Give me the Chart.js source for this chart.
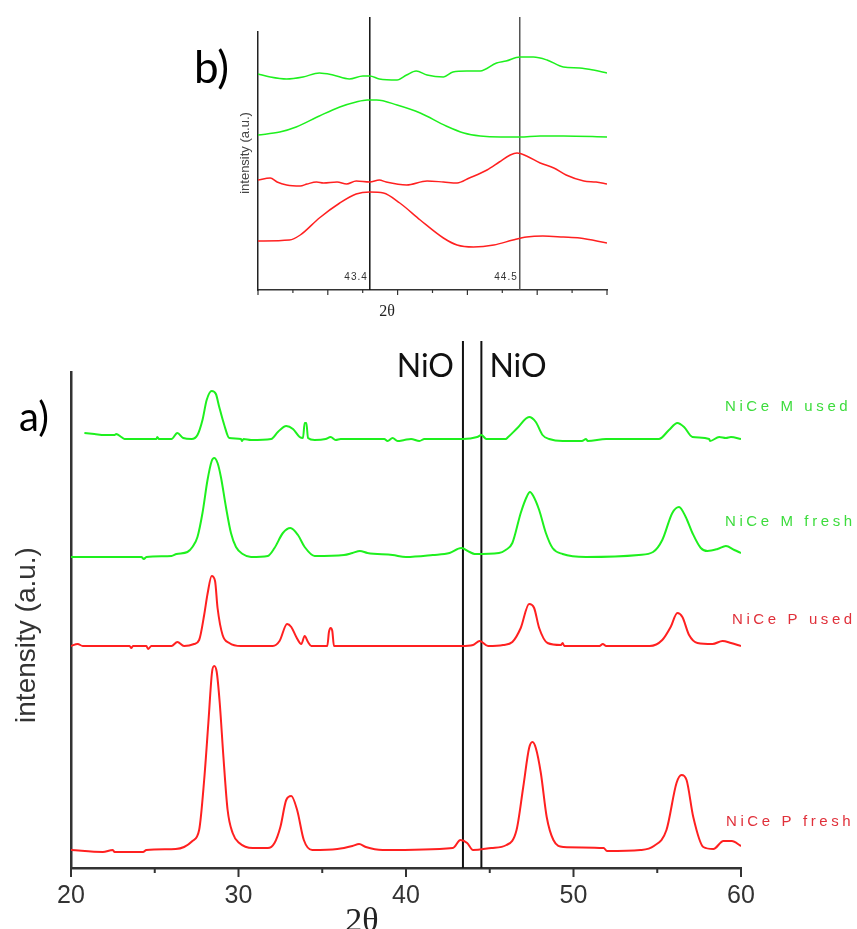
<!DOCTYPE html>
<html>
<head>
<meta charset="utf-8">
<script src="https://cdn.jsdelivr.net/npm/chart.js@4.4.1/dist/chart.umd.min.js"></script>
<style>
  html, body { margin: 0; padding: 0; background: #fff; }
  #wrap { position: relative; width: 857px; height: 929px; }
  canvas { position: absolute; left: 0; top: 0; }
</style>
</head>
<body>
<div id="wrap">
  <canvas id="mainChart" width="857" height="929"></canvas>
  <canvas id="insetChart" width="857" height="335"></canvas>
</div>
<script>
// ---- a) full patterns, [2theta, intensity offset a.u.] ----
const mUsed = [[20.8,435],[21.4,434],[22.0,433],[22.6,433],[22.7,434],[23.0,431],[23.2,429],[25.1,429],[25.15,431],[25.25,429],
  [26.0,429],[26.35,435],[26.7,430],[27.2,429],[27.55,433],[27.85,448],[28.1,468],[28.4,477],[28.65,474],[28.85,461],
  [29.15,443],[29.45,430],[30.15,429],[30.2,427],[30.3,429],[30.75,428],[31.95,429],[32.35,436],[32.85,442],[33.25,439],
  [33.65,431],[33.85,430],[33.95,445],[34.05,445],[34.15,430],[34.55,428],[35.2,429],[35.5,431],[35.8,428],[36.1,429],
  [38.7,429],[38.9,427],[39.2,430],[39.5,427],[39.9,428],[40.3,429],[40.8,427],[41.1,429],[43.4,429],[44.25,431],
  [44.5,433],[44.8,429],[45.95,429],[46.1,431],[46.65,440],[47.35,451],[47.75,446],[48.15,433],[48.55,429],[49.35,427],
  [50.5,427],[50.75,429],[50.85,427],[51.95,429],[55.1,429],[55.7,438],[56.2,445],[56.6,441],[57.1,431],[58.1,429],
  [58.15,427],[58.7,431],[59.1,430],[59.4,431],[60,429]];

const mFresh = [[20,311],[24.2,311],[24.35,309],[24.5,311],[26.0,312],[26.3,314],[26.95,316],[27.25,321],[27.55,331],[27.85,355],
  [28.15,388],[28.4,407],[28.55,410],[28.75,405],[28.95,391],[29.25,361],[29.55,335],[29.85,321],[30.25,314],[30.75,311],[31.75,312],
  [32.15,320],[32.65,335],[33.1,340],[33.55,333],[33.95,321],[34.55,312],[36.3,313],[36.8,315],[37.25,317],[37.7,315],
  [39.2,313],[40,311],[41.6,313],[42.6,315],[43.3,320],[43.8,316],[44.1,314],[45.55,315],[45.95,318],[46.35,325],
  [46.85,355],[47.2,371],[47.4,376],[47.6,372],[47.95,358],[48.35,335],[48.75,320],[49.35,314],[50.75,311],[53.9,313],[54.75,316],
  [55.3,328],[55.9,355],[56.3,361],[56.7,351],[57.1,335],[57.6,320],[58.0,317],[58.6,319],[59.1,322],[59.6,318],[60,315]];

const pUsed = [[20,222],[20.4,224],[20.7,222],[23.5,222],[23.6,220],[23.7,222],[24.5,222],[24.6,219],[24.8,222],[26.0,222],
  [26.35,226],[26.75,222],[27.35,224],[27.65,228],[27.95,253],[28.15,274],[28.4,292],[28.6,287],[28.75,260],[29.05,233],
  [29.45,225],[30.15,222],[32.05,222],[32.45,227],[32.9,244],[33.15,241],[33.45,231],[33.75,224],[33.95,232],[34.15,226],
  [34.35,222],[35.3,222],[35.4,236],[35.5,240],[35.6,237],[35.7,222],[43.3,222],[44.0,223],[44.4,227],[44.9,222],
  [45.8,223],[46.35,226],[46.85,240],[47.35,264],[47.65,260],[47.95,240],[48.45,225],[49.25,223],[49.35,225],[49.45,222],
  [51.55,222],[51.75,224],[51.95,222],[54.55,222],[55.3,228],[55.8,241],[56.2,255],[56.5,251],[56.9,233],[57.4,225],
  [58.3,224],[58.9,227],[59.4,225],[60,222]];

const pFresh = [[20,18],[21.9,16],[22.5,18],[22.6,16],[24.3,16],[24.5,18],[26.25,19],[26.75,21],[27.25,27],[27.65,38],
  [27.95,88],[28.2,145],[28.42,196],[28.55,202],[28.7,196],[28.88,165],[29.1,111],[29.35,58],[29.65,35],[30.05,25],[30.85,20],
  [31.75,20],[32.15,25],[32.5,41],[32.85,68],[33.15,72],[33.5,58],[33.9,28],[34.4,18],[35.9,19],[36.8,22],
  [37.2,24],[37.6,21],[38.6,18],[42.8,20],[43.25,28],[43.65,25],[44.0,18],[45.1,20],[46.0,23],[46.6,38],
  [47.0,81],[47.35,120],[47.55,126],[47.75,120],[48.05,95],[48.4,51],[48.8,28],[49.4,21],[51.8,20],[52.0,17],[54.0,18],
  [54.8,22],[55.55,38],[56.15,85],[56.45,93],[56.75,88],[57.15,51],[57.75,21],[58.35,19],[58.95,27],[59.45,27],[60,22]];

// ---- b) zoom on the NiO region ----
const zmUsed = [[42.58,216],[42.67,213],[42.79,211],[42.91,213],[43.03,217],[43.13,215],[43.25,211],[43.35,214],[43.4,214],
  [43.47,211],[43.6,210],[43.67,215],[43.74,219],[43.82,215],[43.94,213],[44.01,218],[44.11,219],[44.21,219],[44.33,227],
  [44.4,229],[44.5,233],[44.6,233],[44.7,230],[44.82,223],[44.94,222],[45.04,220],[45.14,217]];
const zmFresh = [[42.58,155],[42.74,158],[42.86,163],[43.03,174],[43.18,183],[43.3,188],[43.38,190],[43.45,190],[43.6,185],
  [43.77,177],[43.96,164],[44.09,157],[44.21,154],[44.36,153],[44.5,153],[44.65,154],[44.82,154],[45.14,153]];
const zpUsed = [[42.58,110],[42.67,112],[42.72,108],[42.79,105],[42.89,104],[42.94,106],[43.01,108],[43.06,107],[43.16,108],
  [43.23,106],[43.3,109],[43.4,108],[43.47,110],[43.52,108],[43.67,105],[43.82,109],[43.94,108],[44.04,107],[44.13,112],
  [44.26,120],[44.35,128],[44.43,135],[44.48,137],[44.55,134],[44.65,127],[44.75,122],[44.84,115],[44.97,109],[45.06,108],[45.14,106]];
const zpFresh = [[42.58,49],[42.81,50],[42.89,55],[43.03,72],[43.18,87],[43.3,96],[43.4,98],[43.5,97],[43.62,87],[43.77,70],
  [43.94,52],[44.04,45],[44.16,43],[44.31,45],[44.45,50],[44.55,53],[44.67,54],[44.82,53],[44.94,52],[45.14,47]];

const nioLines = [43.4, 44.5];
const nioTop = 527;      // main chart, a.u.
const zoomNioTop = 273;  // inset, a.u.
const seriesNames = ['NiCe M used', 'NiCe M fresh', 'NiCe P used', 'NiCe P fresh'];

const GREEN = '#1ef01e';
const RED = '#ff2020';

const toPoints = arr => arr.map(([x, y]) => ({ x, y }));

function series(arr, color, width) {
  return {
    data: toPoints(arr),
    borderColor: color,
    borderWidth: width,
    pointRadius: 0,
    cubicInterpolationMode: 'monotone',
    fill: false
  };
}

function markerLines(top, width, colors) {
  return nioLines.map((x, i) => ({
    data: [{ x, y: 0 }, { x, y: top }],
    borderColor: colors[i],
    borderWidth: width,
    pointRadius: 0,
    clip: false
  }));
}

// short/long tick marks under the x axis (alternating minor/major)
const tickMarks = {
  id: 'tickMarks',
  afterDraw(chart, args, opts) {
    const scale = chart.scales.x;
    const ctx = chart.ctx;
    ctx.save();
    ctx.strokeStyle = opts.color;
    ctx.lineWidth = opts.width;
    scale.ticks.forEach((t, i) => {
      const px = scale.getPixelForValue(t.value);
      const len = i % 2 === 0 ? opts.major : opts.minor;
      ctx.beginPath();
      ctx.moveTo(px, scale.top);
      ctx.lineTo(px, scale.top + len);
      ctx.stroke();
    });
    ctx.restore();
  }
};

const mainText = {
  id: 'mainText',
  afterDraw(chart) {
    const ctx = chart.ctx;
    const xs = chart.scales.x;
    ctx.save();
    // NiO labels beside the two lines
    ctx.fillStyle = '#111';
    ctx.font = '32px Lato';
    ctx.textBaseline = 'alphabetic';
    ctx.textAlign = 'right';
    ctx.fillText('NiO', xs.getPixelForValue(nioLines[0]) - 9, 377);
    ctx.textAlign = 'left';
    ctx.fillText('NiO', xs.getPixelForValue(nioLines[1]) + 8, 377);
    // panel letter
    ctx.font = '40px Lato';
    ctx.fillStyle = '#000';
    ctx.fillText('a)', 19, 431);
    // x title
    ctx.font = '34px "Liberation Serif"';
    ctx.fillStyle = '#222';
    ctx.textAlign = 'center';
    ctx.fillText('2θ', 362, 931);
    // y title
    ctx.save();
    ctx.translate(27, 635);
    ctx.rotate(-Math.PI / 2);
    ctx.font = '28px "Liberation Sans"';
    ctx.fillStyle = '#333';
    ctx.textBaseline = 'middle';
    ctx.fillText('intensity (a.u.)', 0, 0);
    ctx.restore();
    // series names
    const spots = [[725, 407, '#3ddc3d'], [725, 522, '#3ddc3d'], [732, 620, '#e0303a'], [726, 822, '#e0303a']];
    ctx.font = '15px "Liberation Sans"';
    ctx.letterSpacing = '3.6px';
    ctx.textAlign = 'left';
    ctx.textBaseline = 'middle';
    seriesNames.forEach((name, i) => {
      ctx.fillStyle = spots[i][2];
      ctx.fillText(name, spots[i][0], spots[i][1]);
    });
    ctx.restore();
  }
};

const insetText = {
  id: 'insetText',
  afterDraw(chart) {
    const ctx = chart.ctx;
    const xs = chart.scales.x;
    ctx.save();
    ctx.fillStyle = '#000';
    ctx.font = '44px Lato';
    ctx.textAlign = 'left';
    ctx.textBaseline = 'alphabetic';
    ctx.fillText('b)', 194, 83);
    // line values
    ctx.font = '10px "Liberation Sans"';
    ctx.letterSpacing = '1px';
    ctx.fillStyle = '#333';
    ctx.textAlign = 'right';
    ctx.textBaseline = 'middle';
    nioLines.forEach(v => ctx.fillText(String(v), xs.getPixelForValue(v) - 2, 277));
    ctx.letterSpacing = '0px';
    // x title
    ctx.font = '16px "Liberation Serif"';
    ctx.fillStyle = '#222';
    ctx.textAlign = 'center';
    ctx.fillText('2θ', 387, 312);
    // y title
    ctx.translate(245, 153);
    ctx.rotate(-Math.PI / 2);
    ctx.font = '13px "Liberation Sans"';
    ctx.fillStyle = '#444';
    ctx.fillText('intensity (a.u.)', 0, 0);
    ctx.restore();
  }
};

new Chart(document.getElementById('mainChart'), {
  type: 'line',
  data: {
    datasets: [
      series(pFresh, RED, 2),
      series(pUsed, RED, 2),
      series(mFresh, GREEN, 2),
      series(mUsed, GREEN, 2),
      ...markerLines(nioTop, 2, ['#111', '#111'])
    ]
  },
  options: {
    responsive: false,
    animation: false,
    layout: { padding: { left: 71, right: 116, top: 372, bottom: 0 } },
    plugins: {
      legend: { display: false },
      tooltip: { enabled: false },
      tickMarks: { color: '#333', width: 2, major: 9, minor: 5 }
    },
    scales: {
      x: {
        type: 'linear',
        min: 20,
        max: 60,
        grid: { display: false, drawTicks: false },
        border: { display: true, color: '#333', width: 2.5 },
        ticks: {
          stepSize: 5,
          autoSkip: false,
          maxRotation: 0,
          padding: 13,
          color: '#333',
          font: { family: '"Liberation Sans"', size: 25 },
          callback: v => (v % 10 === 0 ? v : '')
        },
        afterFit: s => { s.height = 61; }
      },
      y: {
        min: 0,
        max: 496,
        grid: { display: false, drawTicks: false },
        border: { display: true, color: '#333', width: 2.5 },
        ticks: { display: false },
        afterFit: s => { s.width = 0; }
      }
    }
  },
  plugins: [tickMarks, mainText]
});

new Chart(document.getElementById('insetChart'), {
  type: 'line',
  data: {
    datasets: [
      series(zpFresh, RED, 1.5),
      series(zpUsed, RED, 1.5),
      series(zmFresh, GREEN, 1.5),
      series(zmUsed, GREEN, 1.5),
      ...markerLines(zoomNioTop, 1.5, ['#111', '#555'])
    ]
  },
  options: {
    responsive: false,
    animation: false,
    layout: { padding: { left: 258, right: 250, top: 32, bottom: 0 } },
    plugins: {
      legend: { display: false },
      tooltip: { enabled: false },
      tickMarks: { color: '#333', width: 1.2, major: 5, minor: 3 }
    },
    scales: {
      x: {
        type: 'linear',
        min: 42.58,
        max: 45.14,
        grid: { display: false, drawTicks: false },
        border: { display: true, color: '#333', width: 1.5 },
        ticks: { count: 11, display: false },
        afterFit: s => { s.height = 45; }
      },
      y: {
        min: 0,
        max: 258,
        grid: { display: false, drawTicks: false },
        border: { display: true, color: '#222', width: 1.5 },
        ticks: { display: false },
        afterFit: s => { s.width = 0; }
      }
    }
  },
  plugins: [tickMarks, insetText]
});
</script>
</body>
</html>
